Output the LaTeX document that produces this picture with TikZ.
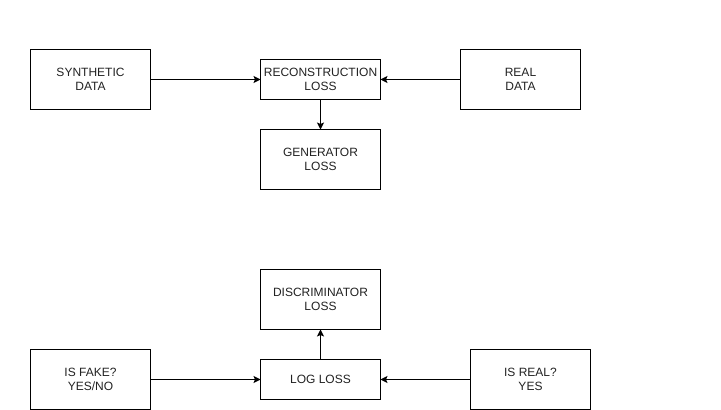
\documentclass[tikz,border=0pt]{standalone}
\usepackage{fontspec}
\setmainfont{Liberation Sans}
\usetikzlibrary{arrows.meta}
\definecolor{txt}{HTML}{222222}
\begin{document}
\begin{tikzpicture}[x=1pt,y=1pt,
  box/.style={draw=black,line width=1pt,fill=white,minimum width=120pt,inner sep=0pt,outer sep=0pt,
    align=center,text=txt,font=\fontsize{12}{14}\selectfont},
  tall/.style={box,minimum height=60pt},
  short/.style={box,minimum height=40pt},
  conn/.style={draw=black,line width=1pt,-{Stealth[length=7pt,width=7pt,inset=1.5pt]}}]
\useasboundingbox (0,0) rectangle (721,410);
\node[tall]  (synth) at (90.5,330.5) {SYNTHETIC\\DATA};
\node[short] (recon) at (320.5,330.5) {RECONSTRUCTION\\LOSS};
\node[tall]  (real)  at (520.5,330.5) {REAL\\DATA};
\node[tall]  (gen)   at (320.5,250.5) {GENERATOR\\LOSS};
\node[tall]  (disc)  at (320.5,110.5) {DISCRIMINATOR\\LOSS};
\node[tall]  (fake)  at (90.5,30.5) {IS FAKE?\\YES/NO};
\node[short] (log)   at (320.5,30.5) {LOG LOSS};
\node[tall]  (isreal) at (530.5,30.5) {IS REAL?\\YES};
\draw[conn] (synth) -- (recon);
\draw[conn] (real) -- (recon);
\draw[conn] (recon) -- (gen);
\draw[conn] (log) -- (disc);
\draw[conn] (fake) -- (log);
\draw[conn] (isreal) -- (log);
\end{tikzpicture}
\end{document}
